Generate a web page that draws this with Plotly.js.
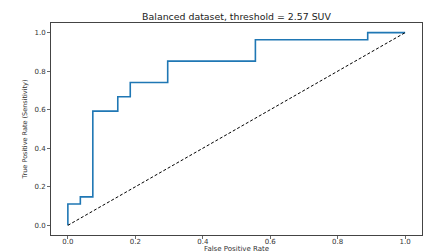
<!DOCTYPE html>
<html><head><meta charset="utf-8">
<script src="https://cdn.plot.ly/plotly-3.0.1.min.js"></script>
<style>html,body{margin:0;padding:0;background:#fff;}#c{width:427px;height:252px;}</style>
</head><body><div id="c"></div>
<script>
const fpr = [0, 0, 0.037, 0.037, 0.074, 0.074, 0.148, 0.148, 0.185, 0.185, 0.296, 0.296, 0.556, 0.556, 0.889, 0.889, 1.0];
const tpr = [0, 0.111, 0.111, 0.148, 0.148, 0.593, 0.593, 0.667, 0.667, 0.741, 0.741, 0.852, 0.852, 0.963, 0.963, 1.0, 1.0];
const chanceX = [0, 1];
const chanceY = [0, 1];
const tickVals = [0, 0.2, 0.4, 0.6, 0.8, 1.0];
const tickText = ['0.0', '0.2', '0.4', '0.6', '0.8', '1.0'];
const titleText = 'Balanced dataset, threshold = 2.57 SUV';
const xTitle = 'False Positive Rate';
const yTitle = 'True Positive Rate (Sensitivity)';

const font = 'DejaVu Sans, sans-serif';
const data = [
  {x: fpr, y: tpr, mode: 'lines', line: {color: '#1f77b4', width: 1.6}, hoverinfo: 'skip'},
  {x: chanceX, y: chanceY, mode: 'lines', line: {color: '#000', width: 1, dash: '3px,2px'}, hoverinfo: 'skip'}
];
const axisCommon = {
  range: [-0.05, 1.05], showgrid: false, zeroline: false,
  showline: true, linecolor: '#444', linewidth: 1, mirror: true,
  ticks: 'outside', ticklen: 3, tickwidth: 0.8, tickcolor: '#444',
  tickvals: tickVals, ticktext: tickText,
  tickfont: {family: font, size: 7, color: '#333'}
};
const layout = {
  width: 427, height: 252,
  margin: {l: 51, r: 5, t: 23, b: 17},
  paper_bgcolor: '#fff', plot_bgcolor: '#fff',
  showlegend: false,
  title: {text: titleText, font: {family: font, size: 9.4, color: '#222'}, xref: 'paper', x: 0.5, xanchor: 'center', y: 0.935, yanchor: 'middle'},
  xaxis: Object.assign({}, axisCommon, {title: {text: ''}, ticklabelstandoff: -3}),
  yaxis: Object.assign({}, axisCommon, {title: {text: yTitle, font: {family: font, size: 6.5, color: '#333'}, standoff: 6}}),
  annotations: [{text: xTitle, xref: 'paper', yref: 'paper', x: 0.5, y: 0, xanchor: 'center', yanchor: 'top', yshift: -7.5, showarrow: false, font: {family: font, size: 7, color: '#333'}}]
};
Plotly.newPlot('c', data, layout, {staticPlot: true, displayModeBar: false});
</script></body></html>
